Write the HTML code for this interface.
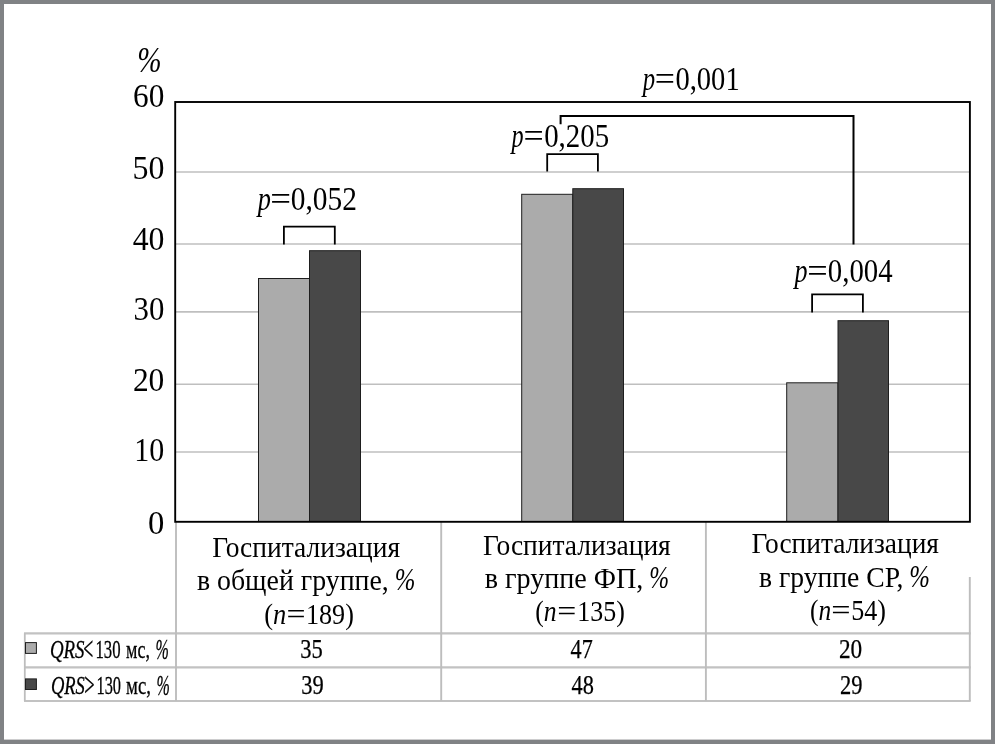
<!DOCTYPE html>
<html lang="ru">
<head>
<meta charset="utf-8">
<title>Госпитализация: QRS&lt;130 мс и QRS&gt;130 мс</title>
<style>
html,body{margin:0;padding:0;background:#fff;}
body{width:995px;height:744px;overflow:hidden;}
svg{display:block;}
svg text{font-family:"Liberation Serif", "Times New Roman", serif;fill:#000;}
</style>
</head>
<body>
<svg width="995" height="744" viewBox="0 0 995 744">
<rect x="0" y="0" width="995" height="744" fill="#808285"/>
<rect x="4" y="4" width="987" height="735.6" fill="#ffffff"/>
<g id="grid">
<line x1="176" y1="172" x2="969" y2="172" stroke="#bfbfbf" stroke-width="1.6"/>
<line x1="176" y1="244" x2="969" y2="244" stroke="#bfbfbf" stroke-width="1.6"/>
<line x1="176" y1="311.9" x2="969" y2="311.9" stroke="#bfbfbf" stroke-width="1.6"/>
<line x1="176" y1="384.3" x2="969" y2="384.3" stroke="#bfbfbf" stroke-width="1.6"/>
<line x1="176" y1="452" x2="969" y2="452" stroke="#bfbfbf" stroke-width="1.6"/>
</g>
<g id="table-lines">
<line x1="24" y1="633.4" x2="970.7" y2="633.4" stroke="#c2c2c2" stroke-width="2.1"/>
<line x1="24" y1="667.4" x2="970.7" y2="667.4" stroke="#c2c2c2" stroke-width="2.1"/>
<line x1="24" y1="701" x2="970.7" y2="701" stroke="#c2c2c2" stroke-width="2.1"/>
<line x1="24.8" y1="633.4" x2="24.8" y2="701" stroke="#bdbdbd" stroke-width="1.8"/>
<line x1="176" y1="522" x2="176" y2="701" stroke="#bdbdbd" stroke-width="1.9"/>
<line x1="441.2" y1="522" x2="441.2" y2="701" stroke="#bdbdbd" stroke-width="1.9"/>
<line x1="705.9" y1="522" x2="705.9" y2="701" stroke="#bdbdbd" stroke-width="1.9"/>
<line x1="969.8" y1="577" x2="969.8" y2="701" stroke="#bdbdbd" stroke-width="1.9"/>
</g>
<g id="bars">
<rect x="258.5" y="278.5" width="51" height="243.0" fill="#ababab" stroke="#1e1e1e" stroke-width="1"/>
<rect x="309.5" y="250.7" width="51" height="270.8" fill="#484848" stroke="#1e1e1e" stroke-width="1"/>
<rect x="521.7" y="194.3" width="51.1" height="327.2" fill="#ababab" stroke="#1e1e1e" stroke-width="1"/>
<rect x="572.8" y="188.7" width="50.7" height="332.8" fill="#484848" stroke="#1e1e1e" stroke-width="1"/>
<rect x="786.7" y="382.8" width="51.3" height="138.7" fill="#ababab" stroke="#1e1e1e" stroke-width="1"/>
<rect x="838.0" y="320.7" width="50.5" height="200.8" fill="#484848" stroke="#1e1e1e" stroke-width="1"/>
</g>
<rect x="175.2" y="102" width="794.7" height="419.8" fill="none" stroke="#000" stroke-width="1.9"/>
<g id="brackets">
<polyline points="283.9,244.5 283.9,226.6 334.8,226.6 334.8,244.5" fill="none" stroke="#000" stroke-width="1.8" stroke-linejoin="miter"/>
<polyline points="547.2,171.6 547.2,154.2 597.9,154.2 597.9,171.6" fill="none" stroke="#000" stroke-width="1.8" stroke-linejoin="miter"/>
<polyline points="812.1,312.5 812.1,294.4 862.9,294.4 862.9,312.5" fill="none" stroke="#000" stroke-width="1.8" stroke-linejoin="miter"/>
<polyline points="560.6,124.2 560.6,116 853.5,116 853.5,244.5" fill="none" stroke="#000" stroke-width="2" stroke-linejoin="miter"/>
</g>
<g id="y-axis">
<text x="137.28" y="71.8" font-size="36" textLength="24.35" lengthAdjust="spacingAndGlyphs"><tspan font-style="italic">%</tspan></text>
<text x="133.0" y="107.3" font-size="33.5" textLength="31.27" lengthAdjust="spacingAndGlyphs">60</text>
<text x="132.6" y="178.8" font-size="33.5" textLength="31.89" lengthAdjust="spacingAndGlyphs">50</text>
<text x="132.69" y="250" font-size="33.5" textLength="31.8" lengthAdjust="spacingAndGlyphs">40</text>
<text x="133.62" y="319.5" font-size="33.5" textLength="30.83" lengthAdjust="spacingAndGlyphs">30</text>
<text x="132.89" y="391.1" font-size="33.5" textLength="31.48" lengthAdjust="spacingAndGlyphs">20</text>
<text x="134.31" y="461" font-size="33.5" textLength="30.01" lengthAdjust="spacingAndGlyphs">10</text>
<text x="148.08" y="533.6" font-size="33.5" textLength="16.34" lengthAdjust="spacingAndGlyphs">0</text>
</g>
<g id="p-values">
<text x="257.64" y="209.9" font-size="34" textLength="13.13" lengthAdjust="spacingAndGlyphs"><tspan font-style="italic">p</tspan></text>
<text x="270.16" y="209.9" font-size="34" textLength="20.77" lengthAdjust="spacingAndGlyphs">=</text>
<text x="290.72" y="209.9" font-size="34" textLength="66.2" lengthAdjust="spacingAndGlyphs">0,052</text>
<text x="511.62" y="147" font-size="34" textLength="12.09" lengthAdjust="spacingAndGlyphs"><tspan font-style="italic">p</tspan></text>
<text x="523.56" y="147" font-size="34" textLength="20.22" lengthAdjust="spacingAndGlyphs">=</text>
<text x="544.14" y="147" font-size="34" textLength="65.03" lengthAdjust="spacingAndGlyphs">0,205</text>
<text x="642.66" y="89.9" font-size="34" textLength="12.37" lengthAdjust="spacingAndGlyphs"><tspan font-style="italic">p</tspan></text>
<text x="654.86" y="89.9" font-size="34" textLength="20.22" lengthAdjust="spacingAndGlyphs">=</text>
<text x="675.45" y="89.9" font-size="34" textLength="64.23" lengthAdjust="spacingAndGlyphs">0,001</text>
<text x="794.43" y="281.9" font-size="34" textLength="13.03" lengthAdjust="spacingAndGlyphs"><tspan font-style="italic">p</tspan></text>
<text x="807.23" y="281.9" font-size="34" textLength="20.47" lengthAdjust="spacingAndGlyphs">=</text>
<text x="827.84" y="281.9" font-size="34" textLength="64.78" lengthAdjust="spacingAndGlyphs">0,004</text>
</g>
<g id="categories">
<text x="212.22" y="556.9" font-size="30.2" textLength="187.81" lengthAdjust="spacingAndGlyphs">Госпитализация</text>
<text x="196.94" y="589.6" font-size="30.2" textLength="191.8" lengthAdjust="spacingAndGlyphs">в общей группе,</text>
<text x="394.75" y="590.1" font-size="32" textLength="20.63" lengthAdjust="spacingAndGlyphs"><tspan font-style="italic">%</tspan></text>
<text x="264.28" y="623.7" font-size="29.6" textLength="22.05" lengthAdjust="spacingAndGlyphs">(<tspan font-style="italic">n</tspan></text>
<text x="286.59" y="623.7" font-size="29.6" textLength="19.07" lengthAdjust="spacingAndGlyphs">=</text>
<text x="305.99" y="623.7" font-size="29.6" textLength="47.91" lengthAdjust="spacingAndGlyphs">189)</text>
<text x="483.02" y="554.5" font-size="30.2" textLength="187.71" lengthAdjust="spacingAndGlyphs">Госпитализация</text>
<text x="484.63" y="587.6" font-size="30.2" textLength="158.77" lengthAdjust="spacingAndGlyphs">в группе ФП,</text>
<text x="649.3" y="588.0" font-size="32" textLength="19.82" lengthAdjust="spacingAndGlyphs"><tspan font-style="italic">%</tspan></text>
<text x="535.22" y="620.7" font-size="29.6" textLength="21.39" lengthAdjust="spacingAndGlyphs">(<tspan font-style="italic">n</tspan></text>
<text x="557.19" y="620.7" font-size="29.6" textLength="19.07" lengthAdjust="spacingAndGlyphs">=</text>
<text x="577.21" y="620.7" font-size="29.6" textLength="47.59" lengthAdjust="spacingAndGlyphs">135)</text>
<text x="751.62" y="553.3" font-size="30.2" textLength="187.31" lengthAdjust="spacingAndGlyphs">Госпитализация</text>
<text x="758.94" y="586.5" font-size="30.2" textLength="144.53" lengthAdjust="spacingAndGlyphs">в группе СР,</text>
<text x="909.35" y="587.0" font-size="32" textLength="20.63" lengthAdjust="spacingAndGlyphs"><tspan font-style="italic">%</tspan></text>
<text x="809.93" y="619.7" font-size="29.6" textLength="21.17" lengthAdjust="spacingAndGlyphs">(<tspan font-style="italic">n</tspan></text>
<text x="831.37" y="619.7" font-size="29.6" textLength="19.31" lengthAdjust="spacingAndGlyphs">=</text>
<text x="851.16" y="619.7" font-size="29.6" textLength="34.81" lengthAdjust="spacingAndGlyphs">54)</text>
</g>
<g id="table-values" stroke="#000" stroke-width="0.25">
<text x="300.24" y="657.7" font-size="26.5" textLength="22.51" lengthAdjust="spacingAndGlyphs">35</text>
<text x="301.24" y="694" font-size="26.5" textLength="22.51" lengthAdjust="spacingAndGlyphs">39</text>
<text x="570.58" y="657.7" font-size="26.5" textLength="22.14" lengthAdjust="spacingAndGlyphs">47</text>
<text x="571.58" y="694" font-size="26.5" textLength="22.37" lengthAdjust="spacingAndGlyphs">48</text>
<text x="838.9" y="657.7" font-size="26.5" textLength="23.28" lengthAdjust="spacingAndGlyphs">20</text>
<text x="839.94" y="694" font-size="26.5" textLength="22.51" lengthAdjust="spacingAndGlyphs">29</text>
</g>
<g id="legend">
<rect x="25.5" y="642.6" width="10.9" height="10.8" fill="#ababab" stroke="#1e1e1e" stroke-width="1"/>
<rect x="25.5" y="678.9" width="10.9" height="10.6" fill="#484848" stroke="#1e1e1e" stroke-width="1"/>
<g stroke="#000" stroke-width="0.3">
<text x="49.91" y="657.5" font-size="26" textLength="34.59" lengthAdjust="spacingAndGlyphs"><tspan font-style="italic">QRS</tspan></text>
<text x="83.36" y="660.0" font-size="33" textLength="10.01" lengthAdjust="spacingAndGlyphs">&lt;</text>
<text x="95.45" y="657.5" font-size="26" textLength="25.09" lengthAdjust="spacingAndGlyphs">130</text>
<text x="126.05" y="657.5" font-size="26" textLength="23.86" lengthAdjust="spacingAndGlyphs">мс,</text>
<text x="155.46" y="658.7" font-size="28.5" textLength="13.32" lengthAdjust="spacingAndGlyphs"><tspan font-style="italic">%</tspan></text>
<text x="50.93" y="693.7" font-size="26" textLength="33.97" lengthAdjust="spacingAndGlyphs"><tspan font-style="italic">QRS</tspan></text>
<text x="84.32" y="695.95" font-size="33" textLength="10.38" lengthAdjust="spacingAndGlyphs">&gt;</text>
<text x="96.48" y="693.7" font-size="26" textLength="24.55" lengthAdjust="spacingAndGlyphs">130</text>
<text x="126.04" y="693.7" font-size="26" textLength="24.93" lengthAdjust="spacingAndGlyphs">мс,</text>
<text x="156.46" y="695.0" font-size="28.5" textLength="13.32" lengthAdjust="spacingAndGlyphs"><tspan font-style="italic">%</tspan></text>
</g>
</g>
</svg>
</body>
</html>
